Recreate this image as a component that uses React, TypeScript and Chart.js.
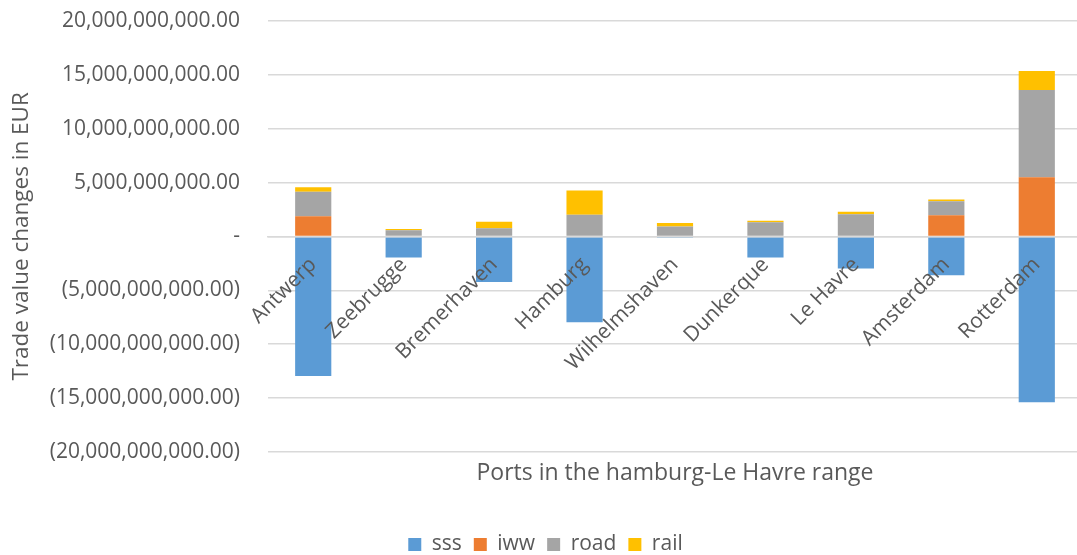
import React, { useEffect, useRef } from "react";
import { Chart, registerables } from "chart.js";

Chart.register(...registerables);

const categories = [
  "Antwerp",
  "Zeebrugge",
  "Bremerhaven",
  "Hamburg",
  "Wilhelmshaven",
  "Dunkerque",
  "Le Havre",
  "Amsterdam",
  "Rotterdam",
];

// values in EUR
const sss = [-12.97e9, -1.96e9, -4.23e9, -7.96e9, -0.12e9, -1.96e9, -2.99e9, -3.6e9, -15.39e9];
const iww = [1.87e9, 0.0, 0.0, 0.0, 0.0, 0.0, 0.0, 1.96e9, 5.5e9];
const road = [2.27e9, 0.58e9, 0.75e9, 2.0e9, 0.93e9, 1.31e9, 2.05e9, 1.3e9, 8.09e9];
const rail = [0.43e9, 0.11e9, 0.62e9, 2.26e9, 0.32e9, 0.15e9, 0.25e9, 0.16e9, 1.77e9];

const yMin = -20e9;
const yMax = 20e9;
const yStep = 5e9;

const xTitle = "Ports in the hamburg-Le Havre range";
const yTitle = "Trade value changes in EUR";

const FONT = "'Open Sans', 'Noto Sans', sans-serif";
const TEXT = "#595959";

function fmt(v: number): string {
  if (v === 0) return "-";
  const s = Math.abs(v).toLocaleString("en-US", {
    minimumFractionDigits: 2,
    maximumFractionDigits: 2,
  });
  return v < 0 ? `(${s})` : s;
}

const xTitlePlugin = {
  id: "xTitleCentered",
  afterDraw(chart: any) {
    const { ctx, chartArea } = chart;
    ctx.save();
    ctx.font = `23px ${FONT}`;
    ctx.fillStyle = TEXT;
    ctx.textAlign = "center";
    ctx.textBaseline = "middle";
    ctx.fillText(xTitle, (chartArea.left + chartArea.right) / 2, chartArea.bottom + 22);
    ctx.restore();
  },
};

export default function App() {
  const ref = useRef<HTMLCanvasElement | null>(null);

  useEffect(() => {
    if (!ref.current) return;
    Chart.defaults.font.family = FONT;
    Chart.defaults.color = TEXT;
    const chart = new Chart(ref.current, {
      type: "bar",
      data: {
        labels: categories,
        datasets: [
          { label: "sss", data: sss, backgroundColor: "#5B9BD5" },
          { label: "iww", data: iww, backgroundColor: "#ED7D31" },
          { label: "road", data: road, backgroundColor: "#A5A5A5" },
          { label: "rail", data: rail, backgroundColor: "#FFC000" },
        ],
      },
      options: {
        animation: false,
        responsive: true,
        maintainAspectRatio: false,
        datasets: {
          bar: { categoryPercentage: 1, barPercentage: 0.4 },
        },
        layout: { padding: { top: 21, right: 0, bottom: -10, left: 9 } },
        scales: {
          x: {
            stacked: true,
            position: { y: 0 } as any,
            grid: { display: false, drawTicks: false },
            border: { display: true, color: "#D9D9D9", width: 1.5, z: 1 } as any,
            ticks: {
              minRotation: 45,
              maxRotation: 45,
              autoSkip: false,
              padding: 16,
              z: 1,
              font: { size: 21, family: FONT },
              color: TEXT,
            },
          },
          y: {
            stacked: true,
            min: yMin,
            max: yMax,
            afterFit: (scale: any) => {
              scale.width = 259;
              scale.paddingTop = 0;
              scale.paddingBottom = 0;
            },
            grid: { color: "#D9D9D9", lineWidth: 1.5, drawTicks: false },
            border: { display: false },
            ticks: {
              stepSize: yStep,
              padding: 28,
              font: { size: 21, family: FONT },
              color: TEXT,
              callback: (v: any) => fmt(Number(v)),
            },
            title: {
              display: true,
              text: yTitle,
              font: { size: 22.5, family: FONT },
              color: TEXT,
              padding: { top: -1, bottom: 0 },
            },
          },
        },
        plugins: {
          legend: {
            position: "bottom",
            labels: {
              boxWidth: 13,
              boxHeight: 13,
              padding: 12,
              font: { size: 21, family: FONT },
              color: TEXT,
            },
          },
          // spacer reserving room for the centred x-axis title drawn by xTitlePlugin
          title: {
            display: true,
            position: "bottom",
            text: xTitle,
            weight: 500,
            font: { size: 21, family: FONT, weight: "normal" },
            color: "rgba(0,0,0,0)",
            padding: { top: 9, bottom: 36 },
          } as any,
          tooltip: { enabled: false },
        },
      },
      plugins: [xTitlePlugin],
    });
    return () => chart.destroy();
  }, []);

  return (
    <div style={{ position: "absolute", left: 0, top: 0, width: 1077, height: 555, overflow: "hidden", background: "#fff" }}>
      <div style={{ position: "absolute", left: 0, top: 0, width: 1082, height: 555 }}>
        <canvas ref={ref} />
      </div>
    </div>
  );
}
